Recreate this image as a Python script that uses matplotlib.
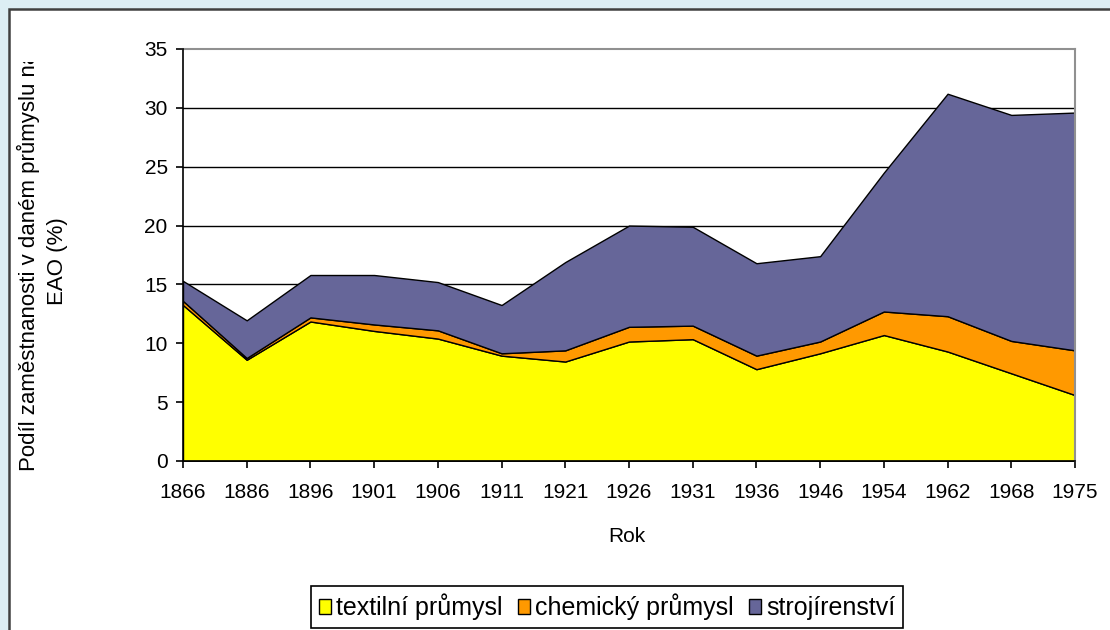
import matplotlib
matplotlib.use("Agg")
import matplotlib.pyplot as plt
from matplotlib.patches import Rectangle, Patch
from matplotlib.transforms import Bbox, TransformedBbox
import numpy as np

plt.rcParams['font.family'] = ['Liberation Sans', 'DejaVu Sans']

years = ["1866", "1886", "1896", "1901", "1906", "1911", "1921", "1926",
         "1931", "1936", "1946", "1954", "1962", "1968", "1975"]
textil = [13.25, 8.6, 11.85, 11.05, 10.4, 8.95, 8.45, 10.15,
          10.35, 7.8, 9.15, 10.7, 9.3, 7.45, 5.6]
chemie = [0.35, 0.15, 0.35, 0.55, 0.7, 0.2, 0.95, 1.25,
          1.15, 1.15, 1.0, 2.0, 3.0, 2.75, 3.8]
stroje = [1.7, 3.2, 3.6, 4.2, 4.1, 4.1, 7.5, 8.6,
          8.4, 7.85, 7.25, 11.8, 18.9, 19.2, 20.2]
names = ["textilní průmysl", "chemický průmysl", "strojírenství"]
colors = ["#FFFF00", "#FF9900", "#666699"]

W, H = 1110, 630
fig = plt.figure(figsize=(W / 100, H / 100), dpi=100, facecolor="#DCEEF4")

# white chart area with dark frame (runs off the right and bottom edges)
fig.patches.append(Rectangle((9 / W, -0.1), 1.2, 1 - 9 / H + 0.1, transform=fig.transFigure,
                             facecolor="white", edgecolor="#404040", linewidth=1.8, zorder=-5))

ax = fig.add_axes([183 / W, 1 - 461 / H, (1075 - 183) / W, (461 - 49) / H])
ax.set_facecolor("white")
x = np.arange(len(years))
ax.stackplot(x, textil, chemie, stroje, colors=colors, edgecolor="black",
             linewidth=1.0, zorder=2)

ax.set_xlim(0, len(years) - 1)
ax.set_ylim(0, 35)
ax.set_yticks(range(0, 36, 5))
ax.set_xticks(x)
ax.set_xticklabels(years)
for yv in range(5, 35, 5):
    ax.axhline(yv, color="black", linewidth=1.0, zorder=1)

for s in ["top", "right"]:
    ax.spines[s].set_color("#909090")
    ax.spines[s].set_linewidth(1.5)
for s in ["left", "bottom"]:
    ax.spines[s].set_color("black")
    ax.spines[s].set_linewidth(1.2)
    ax.spines[s].set_zorder(3)
ax.tick_params(direction="out", length=5, width=1.2, labelsize=15, colors="black")
ax.tick_params(axis="x", pad=11)
ax.tick_params(axis="y", pad=6)

fig.text(627 / W, 1 - 537 / H, "Rok", ha="center", va="center", fontsize=15)

# y label: two lines, first one clipped at the top like the original
clip = TransformedBbox(Bbox([[0, 0], [1, 1 - 62 / H]]), fig.transFigure)
t1 = fig.text(28 / W, 1 - 261 / H, "Podíl zaměstnanosti v daném průmyslu na",
              rotation=90, ha="center", va="center", fontsize=16)
t1.set_clip_box(clip)
t1.set_clip_on(True)
fig.text(57 / W, 1 - 261 / H, "EAO (%)", rotation=90, ha="center", va="center", fontsize=16)

handles = [Patch(facecolor=c, edgecolor="black", linewidth=1.0) for c in colors]
leg = fig.legend(handles, names, loc="center", bbox_to_anchor=(607 / W, 1 - 607 / H),
                 ncol=3, fontsize=18, frameon=True, fancybox=False, framealpha=1,
                 edgecolor="black", handlelength=0.5, handleheight=0.5,
                 handletextpad=0.2, columnspacing=0.6, borderpad=0.3, borderaxespad=0)
leg.get_frame().set_linewidth(1.2)

fig.savefig("out.png", dpi=100, facecolor=fig.get_facecolor())
